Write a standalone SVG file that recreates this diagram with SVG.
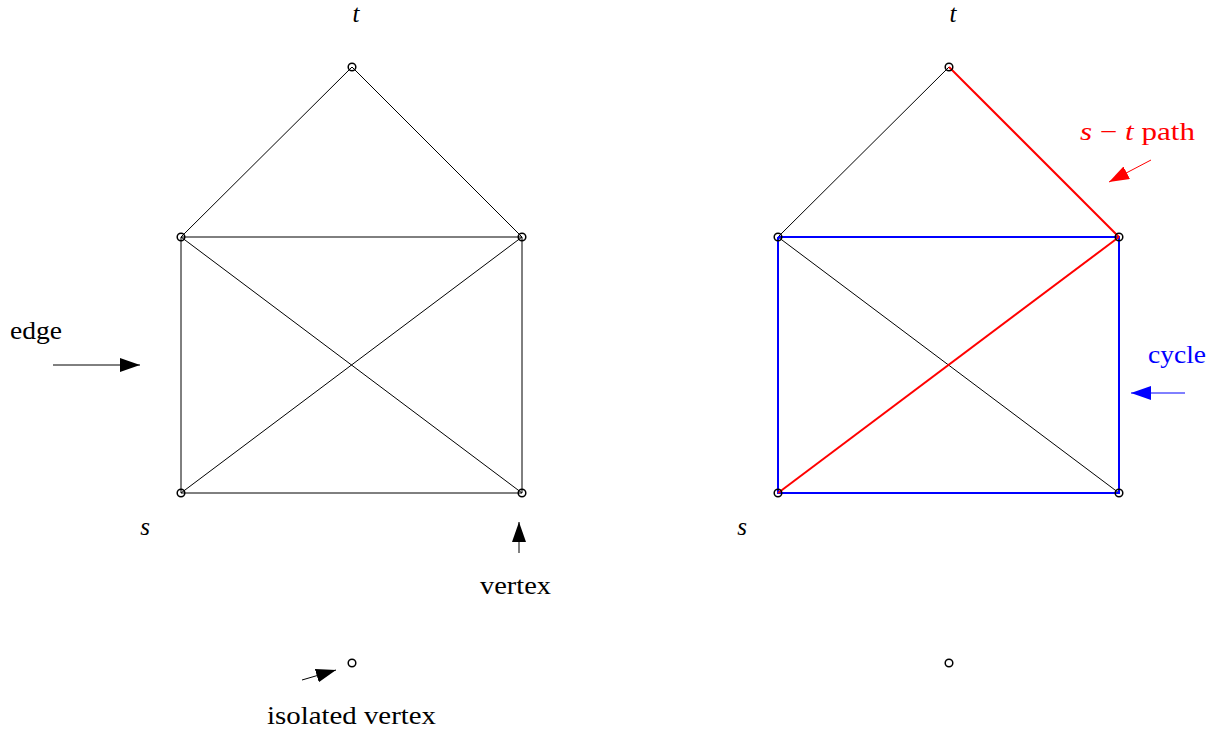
<svg xmlns="http://www.w3.org/2000/svg" width="1211" height="731" viewBox="0 0 1211 731">
<style>
.e{stroke:#000;stroke-width:1;fill:none}
.b{stroke:#0000ff;stroke-width:2;fill:none}
.r{stroke:#ff0000;stroke-width:2;fill:none}
.v{stroke:#000;stroke-width:1.5;fill:none}
text{font-family:"Liberation Serif","DejaVu Serif",serif;font-size:25px}
.i{font-style:italic}
</style>
<defs>
<marker id="ak" markerUnits="userSpaceOnUse" markerWidth="22" markerHeight="16" refX="20" refY="7" orient="auto"><path d="M0,0 L20,7 L0,14 z" fill="#000"/></marker>
<marker id="ar" markerUnits="userSpaceOnUse" markerWidth="22" markerHeight="16" refX="20" refY="7" orient="auto"><path d="M0,0 L20,7 L0,14 z" fill="#ff0000"/></marker>
<marker id="ab" markerUnits="userSpaceOnUse" markerWidth="22" markerHeight="16" refX="20" refY="7" orient="auto"><path d="M0,0 L20,7 L0,14 z" fill="#0000ff"/></marker>
</defs>
<g id="connectors">
<line class="e" x1="352" y1="67" x2="181" y2="237"/>
<line class="e" x1="352" y1="67" x2="522" y2="237"/>
<line class="e" x1="181" y1="237" x2="522" y2="237"/>
<line class="e" x1="181" y1="237" x2="181" y2="493"/>
<line class="e" x1="522" y1="237" x2="522" y2="493"/>
<line class="e" x1="181" y1="493" x2="522" y2="493"/>
<line class="e" x1="181" y1="237" x2="522" y2="493"/>
<line class="e" x1="522" y1="237" x2="181" y2="493"/>
<line class="e" x1="949" y1="67" x2="778" y2="237"/>
<line class="e" x1="778" y1="237" x2="1119" y2="493"/>
<polyline class="b" points="778,237 1119,237 1119,493 778,493 778,237"/>
<line class="r" x1="949" y1="67" x2="1119" y2="237"/>
<line class="r" x1="1119" y1="237" x2="778" y2="493"/>
<line class="e" x1="53" y1="365" x2="140" y2="365" marker-end="url(#ak)"/>
<line class="e" x1="519" y1="553" x2="519" y2="522" marker-end="url(#ak)"/>
<line class="e" x1="302" y1="680" x2="336" y2="670" marker-end="url(#ak)"/>
<line class="r" style="stroke-width:1" x1="1151" y1="160" x2="1109" y2="182" marker-end="url(#ar)"/>
<line class="b" style="stroke-width:1" x1="1185" y1="393" x2="1131" y2="393" marker-end="url(#ab)"/>
</g>
<g id="left-t"><circle class="v" cx="352" cy="67" r="3.8"/><text class="i" x="356" y="22" text-anchor="middle">t</text></g>
<g id="left-tl"><circle class="v" cx="181" cy="237" r="3.8"/></g>
<g id="left-tr"><circle class="v" cx="522" cy="237" r="3.8"/></g>
<g id="left-s"><circle class="v" cx="181" cy="493" r="3.8"/><text class="i" x="145" y="535" text-anchor="middle">s</text></g>
<g id="left-br"><circle class="v" cx="522" cy="493" r="3.8"/></g>
<g id="left-iso"><circle class="v" cx="352" cy="663" r="3.8"/></g>
<g id="right-t"><circle class="v" cx="949" cy="67" r="3.8"/><text class="i" x="953" y="22" text-anchor="middle">t</text></g>
<g id="right-tl"><circle class="v" cx="778" cy="237" r="3.8"/></g>
<g id="right-tr"><circle class="v" cx="1119" cy="237" r="3.8"/></g>
<g id="right-s"><circle class="v" cx="778" cy="493" r="3.8"/><text class="i" x="742" y="535" text-anchor="middle">s</text></g>
<g id="right-br"><circle class="v" cx="1119" cy="493" r="3.8"/></g>
<g id="right-iso"><circle class="v" cx="949" cy="663" r="3.8"/></g>
<g id="labels">
<text x="10" y="339" textLength="52" lengthAdjust="spacingAndGlyphs">edge</text>
<text x="480" y="594" textLength="71" lengthAdjust="spacingAndGlyphs">vertex</text>
<text x="267" y="724" textLength="169" lengthAdjust="spacingAndGlyphs">isolated vertex</text>
<text x="1080" y="140" fill="#ff0000" font-size="26" textLength="115" lengthAdjust="spacingAndGlyphs"><tspan font-style="italic">s</tspan> − <tspan font-style="italic">t</tspan> path</text>
<text x="1148" y="363" fill="#0000ff" textLength="58" lengthAdjust="spacingAndGlyphs">cycle</text>
</g>
</svg>
